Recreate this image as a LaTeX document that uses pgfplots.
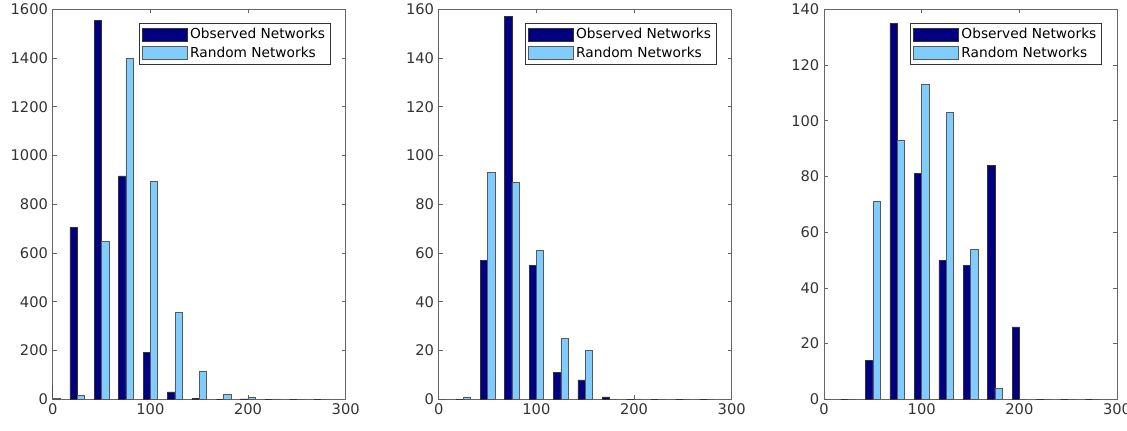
\documentclass[border=0pt]{standalone}
\usepackage{pgfplots}
\pgfplotsset{compat=1.18}
\usepackage{pgfplotstable}
\usepackage{fontspec}
\setmainfont{DejaVu Sans}
\definecolor{obs}{rgb}{0,0,0.5}
\definecolor{rnd}{rgb}{0.5,0.8,1}
\definecolor{axgray}{gray}{0.4}
\definecolor{txtgray}{gray}{0.2}

\pgfplotstableread{
x obs rnd
0 55 5
25 705 17
50 1555 649
75 917 1399
100 193 895
125 30 358
150 5 115
175 0 19
200 2 7
225 0 2
250 0 1
275 0 1
}\dataA

\pgfplotstableread{
x obs rnd
0 0 0
25 0 1
50 57 93
75 157 89
100 55 61
125 11 25
150 8 20
175 1 0
200 0 0
225 0 0
250 0 0
275 0 0
}\dataB

\pgfplotstableread{
x obs rnd
0 0 0
25 0 0
50 14 71
75 135 93
100 81 113
125 50 103
150 48 54
175 84 4
200 26 0
225 0 0
250 0 0
275 0 0
}\dataC

\pgfplotsset{
  hist/.style={
    scale only axis, width=219.75pt, height=292.5pt,
    xmin=0, xmax=300, ymin=0,
    xtick={0,100,200,300},
    tick align=inside, xtick pos=both, ytick pos=both,
    major tick length=3pt,
    axis line style={axgray, line width=0.5pt},
    every tick/.style={axgray, line width=0.5pt},
    tick label style={font=\fontsize{11}{13}\selectfont, text=txtgray},
    /pgf/number format/assume math mode=true,
    scaled y ticks=false,
    yticklabel style={/pgf/number format/1000 sep={}},
    legend style={at={(0.949,0.964)}, anchor=north east, draw=black!80, line width=0.5pt,
      font=\fontsize{10.3}{12}\selectfont, cells={anchor=west}, inner xsep=2pt, inner ysep=1.5pt, row sep=0.6pt},
  },
  obsbar/.style={ybar, bar width=7.5, bar shift=-3.75, fill=obs, draw=black!80, line width=0.4pt,
    legend image code/.code={\draw[##1] (0pt,-4.875pt) rectangle (33.75pt,4.875pt);}},
  rndbar/.style={ybar, bar width=7.5, bar shift=3.75, fill=rnd, draw=black!65, line width=0.4pt,
    legend image code/.code={\draw[##1] (0pt,-4.875pt) rectangle (33.75pt,4.875pt);}},
}

\begin{document}
\begin{tikzpicture}
\begin{axis}[hist, at={(39.525pt,23.025pt)}, anchor=south west, ymax=1600, ytick={0,200,...,1600}]
\addplot[obsbar] table[x=x,y=obs] {\dataA};
\addplot[rndbar] table[x=x,y=rnd] {\dataA};
\legend{Observed Networks, Random Networks}
\end{axis}
\begin{axis}[hist, at={(329.025pt,23.025pt)}, anchor=south west, ymax=160, ytick={0,20,...,160}]
\addplot[obsbar] table[x=x,y=obs] {\dataB};
\addplot[rndbar] table[x=x,y=rnd] {\dataB};
\legend{Observed Networks, Random Networks}
\end{axis}
\begin{axis}[hist, at={(618pt,23.025pt)}, anchor=south west, ymax=140, ytick={0,20,...,140}]
\addplot[obsbar] table[x=x,y=obs] {\dataC};
\addplot[rndbar] table[x=x,y=rnd] {\dataC};
\legend{Observed Networks, Random Networks}
\end{axis}
\pgfresetboundingbox
\path (0,0) rectangle (845.25pt,322.5pt);
\end{tikzpicture}
\end{document}
